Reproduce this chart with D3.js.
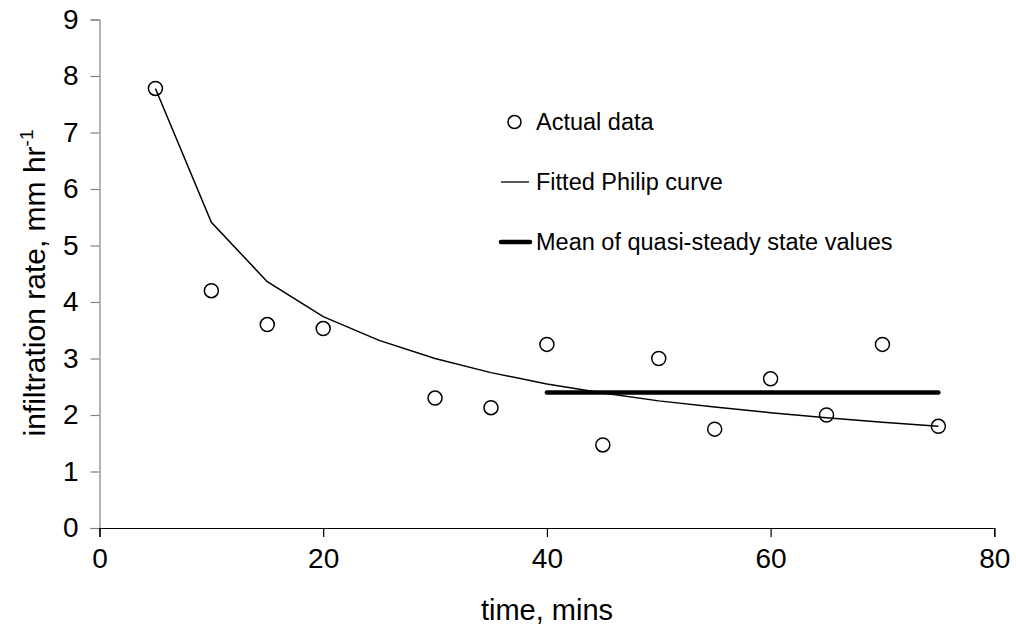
<!DOCTYPE html>
<html>
<head>
<meta charset="utf-8">
<script src="https://cdn.jsdelivr.net/npm/d3@7"></script>
<style>
  html, body { margin: 0; padding: 0; background: #fff; }
  svg { display: block; font-family: "Liberation Sans", Arial, sans-serif; }
</style>
</head>
<body>
<svg id="chart" width="1016" height="631"></svg>
<script>
// Measured infiltration rates (mm/hr) against elapsed time (mins)
const obsTime = [5, 10, 15, 20, 30, 35, 40, 45, 50, 55, 60, 65, 70, 75];
const obsRate = [7.78, 4.2, 3.6, 3.53, 2.3, 2.13, 3.25, 1.47, 3.0, 1.75, 2.64, 2.0, 3.25, 1.8];

// Fitted Philip infiltration curve
const fitTime = [5, 10, 15, 20, 25, 30, 35, 40, 45, 50, 55, 60, 65, 70, 75];
const fitRate = [7.78, 5.41, 4.36, 3.74, 3.32, 3.0, 2.75, 2.55, 2.39, 2.25, 2.14, 2.04, 1.95, 1.87, 1.8];

// Mean of the quasi-steady state values (40–75 mins)
const meanTime = [40, 75];
const meanRate = [2.4, 2.4];

const xTicks = [0, 20, 40, 60, 80];
const yTicks = [0, 1, 2, 3, 4, 5, 6, 7, 8, 9];

const legendLabels = ["Actual data", "Fitted Philip curve", "Mean of quasi-steady state values"];

const svg = d3.select("#chart");
const x = d3.scaleLinear().domain([0, 80]).range([99.5, 994.3]);
const y = d3.scaleLinear().domain([0, 9]).range([528, 19.5]);

const tickFont = 28;
const titleFont = 29;
const legendFont = 23.5;
const family = "Liberation Sans, Arial, sans-serif";

// Y axis (ticks point outward to the left)
const yAxis = svg.append("g")
  .attr("transform", `translate(${x(0)},0)`)
  .call(d3.axisLeft(y).tickValues(yTicks).tickSize(9).tickPadding(12).tickFormat(d3.format("d")));
yAxis.select(".domain").attr("stroke", "#808080").attr("stroke-width", 1.2);
yAxis.selectAll(".tick line").attr("stroke", "#808080").attr("stroke-width", 1.2);
yAxis.selectAll(".tick text").attr("font-size", tickFont).attr("fill", "#000")
  .attr("font-family", family);

// X axis
const xAxis = svg.append("g")
  .attr("transform", `translate(0,${y(0)})`)
  .call(d3.axisBottom(x).tickValues(xTicks).tickSize(9).tickPadding(11).tickFormat(d3.format("d")));
xAxis.select(".domain").attr("stroke", "#000").attr("stroke-width", 1.2);
xAxis.selectAll(".tick line").attr("stroke", "#000").attr("stroke-width", 1.2);
xAxis.selectAll(".tick text").attr("font-size", tickFont).attr("fill", "#000")
  .attr("font-family", family);

// Axis titles
svg.append("text")
  .attr("x", 547).attr("y", 620)
  .attr("text-anchor", "middle")
  .attr("font-size", titleFont)
  .text("time, mins");

const yTitle = svg.append("text")
  .attr("transform", "translate(45,283) rotate(-90)")
  .attr("text-anchor", "middle")
  .attr("font-size", 30);
yTitle.append("tspan").text("infiltration rate, mm hr");
yTitle.append("tspan").attr("dy", -12).attr("font-size", 19).text("-1");

// Mean line
const line = d3.line().x(d => x(d[0])).y(d => y(d[1]));
svg.append("path")
  .datum(d3.zip(meanTime, meanRate))
  .attr("d", line)
  .attr("fill", "none").attr("stroke", "#000").attr("stroke-width", 4.5)
  .attr("stroke-linecap", "round");

// Fitted curve
svg.append("path")
  .datum(d3.zip(fitTime, fitRate))
  .attr("d", line)
  .attr("fill", "none").attr("stroke", "#000").attr("stroke-width", 1.5);

// Observations
svg.append("g").selectAll("circle")
  .data(d3.zip(obsTime, obsRate))
  .join("circle")
  .attr("cx", d => x(d[0])).attr("cy", d => y(d[1]))
  .attr("r", 7)
  .attr("fill", "none").attr("stroke", "#000").attr("stroke-width", 1.5);

// Legend
const legend = svg.append("g");
const legendY = [122, 182, 242];
legend.append("circle").attr("cx", 514.5).attr("cy", legendY[0]).attr("r", 6.5)
  .attr("fill", "none").attr("stroke", "#000").attr("stroke-width", 1.5);
legend.append("line").attr("x1", 501).attr("x2", 529).attr("y1", legendY[1]).attr("y2", legendY[1])
  .attr("stroke", "#000").attr("stroke-width", 1.3);
legend.append("line").attr("x1", 501).attr("x2", 530).attr("y1", legendY[2]).attr("y2", legendY[2])
  .attr("stroke", "#000").attr("stroke-width", 4.5).attr("stroke-linecap", "round");
legend.selectAll("text")
  .data(legendLabels)
  .join("text")
  .attr("x", 536)
  .attr("y", (d, i) => legendY[i])
  .attr("dy", "0.35em")
  .attr("font-size", legendFont)
  .attr("font-family", family)
  .text(d => d);
</script>
</body>
</html>
